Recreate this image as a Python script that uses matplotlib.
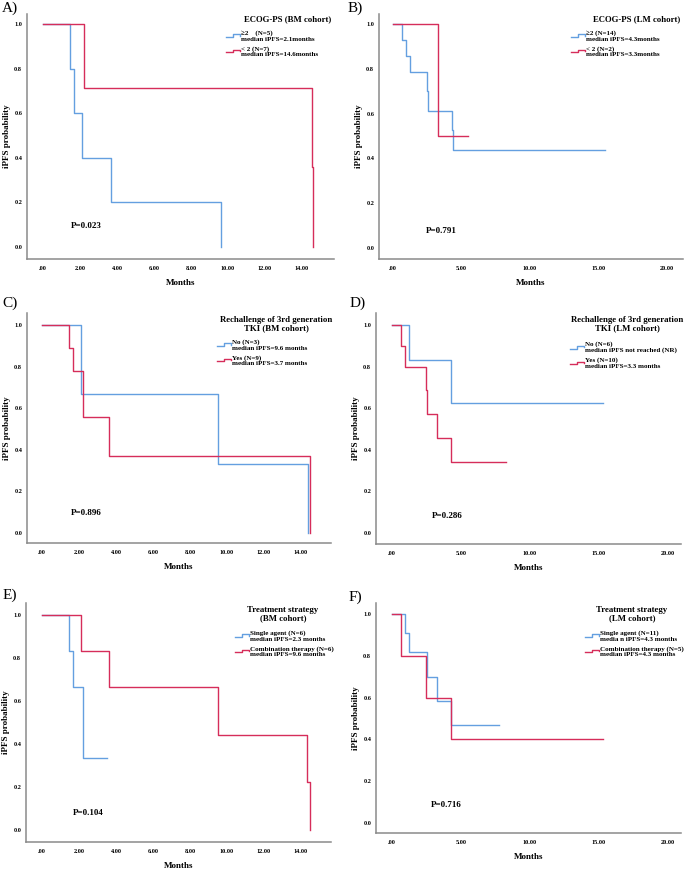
import numpy as np
import matplotlib
matplotlib.use('Agg')
import matplotlib.pyplot as plt
from matplotlib.lines import Line2D
from matplotlib.legend_handler import HandlerBase

plt.rcParams['font.family'] = ['Liberation Serif', 'DejaVu Serif']

W, H = 685, 869
blue = '#649fe0'
red = '#d62d5a'

# ---- data (months, iPFS probability) ----
A_blue_t = [0, 1.45, 1.65, 2.12, 3.68, 9.6]
A_blue_s = [1.0, 0.8, 0.6, 0.4, 0.2, 0.0]
A_red_t = [0, 2.23, 14.52, 14.58]
A_red_s = [1.0, 0.714, 0.357, 0.0]

B_blue_t = [0, 0.66, 0.98, 1.27, 2.49, 2.56, 4.34, 4.41, 15.5]
B_blue_s = [1.0, 0.929, 0.857, 0.786, 0.70, 0.613, 0.525, 0.4375, 0.4375]
B_red_t = [0, 3.32, 5.5]
B_red_s = [1.0, 0.5, 0.5]

C_blue_t = [0, 2.09, 9.53, 14.38]
C_blue_s = [1.0, 0.667, 0.333, 0.0]
C_red_t = [0, 1.44, 1.65, 2.21, 3.62, 14.47]
C_red_s = [1.0, 0.889, 0.778, 0.556, 0.370, 0.0]

D_blue_t = [0, 1.25, 4.29, 15.3]
D_blue_s = [1.0, 0.833, 0.625, 0.625]
D_red_t = [0, 0.65, 0.92, 2.46, 2.55, 3.28, 4.27, 8.27]
D_red_s = [1.0, 0.9, 0.8, 0.686, 0.571, 0.457, 0.343, 0.343]

E_blue_t = [0, 1.44, 1.65, 2.21, 3.51]
E_blue_s = [1.0, 0.833, 0.667, 0.333, 0.333]
E_red_t = [0, 2.09, 3.62, 9.53, 14.35, 14.46]
E_red_s = [1.0, 0.833, 0.667, 0.444, 0.222, 0.0]

F_blue_t = [0, 0.92, 1.25, 2.53, 3.28, 4.29, 7.76]
F_blue_s = [1.0, 0.909, 0.818, 0.70, 0.584, 0.467, 0.467]
F_red_t = [0, 0.65, 2.46, 4.27, 15.3]
F_red_s = [1.0, 0.8, 0.6, 0.4, 0.4]

titles = ['ECOG-PS (BM cohort)', 'ECOG-PS (LM cohort)',
          'Rechallenge of 3rd generation\nTKI (BM cohort)',
          'Rechallenge of 3rd generation\nTKI (LM cohort)',
          'Treatment strategy\n(BM cohort)', 'Treatment strategy\n(LM cohort)']
blue_labels = ['≥2    (N=5)\nmedian iPFS=2.1months', '≥2 (N=14)\nmedian iPFS=4.3months',
               'No (N=3)\nmedian iPFS=9.6 months', 'No (N=6)\nmedian iPFS not reached (NR)',
               'Single agent (N=6)\nmedian iPFS=2.3 months', 'Single agent (N=11)\nmedia n iPFS=4.3 months']
red_labels = ['< 2 (N=7)\nmedian iPFS=14.6months', '< 2 (N=2)\nmedian iPFS=3.3months',
              'Yes (N=9)\nmedian iPFS=3.7 months', 'Yes (N=10)\nmedian iPFS=3.3 months',
              'Combination therapy (N=6)\nmedian iPFS=9.6 months', 'Combination therapy (N=5)\nmedian iPFS=4.3 months']
pvals = ['P=0.023', 'P=0.791', 'P=0.896', 'P=0.286', 'P=0.104', 'P=0.716']
panel_ids = ['A)', 'B)', 'C)', 'D)', 'E)', 'F)']

curves = [(A_blue_t, A_blue_s, A_red_t, A_red_s), (B_blue_t, B_blue_s, B_red_t, B_red_s),
          (C_blue_t, C_blue_s, C_red_t, C_red_s), (D_blue_t, D_blue_s, D_red_t, D_red_s),
          (E_blue_t, E_blue_s, E_red_t, E_red_s), (F_blue_t, F_blue_s, F_red_t, F_red_s)]

# layout in pixels: left, right, top, bottom, x of month 0, px per month, y of 1.0, y of 0.0
layout = [(27, 334, 14, 259, 43, 18.5, 24, 247),
          (379, 683, 14, 259, 393, 13.7, 24, 248),
          (27, 331, 313, 543, 42, 18.5, 325, 533),
          (376, 681, 313, 544, 392, 13.8, 325, 533),
          (26, 331, 603, 842, 42, 18.5, 615, 830),
          (376, 681, 603, 833, 392, 13.8, 614, 823)]
# p-value position (data coords), panel letter position, legend title centre, legend anchor (px)
p_pos = [(1.5, 0.094), (2.4, 0.076), (1.57, 0.096), (2.9, 0.082), (1.67, 0.079), (2.83, 0.086)]
id_pos = [(10, 8), (355, 8), (10, 303), (358, 303), (10, 595), (355, 597)]
title_pos = [(288, 19), (637, 19), (276, 324), (627, 324), (283, 614), (632, 614)]
leg_pos = [(223, 27), (568, 27), (214, 336), (567, 338), (232, 627), (582, 627)]


class StepHandler(HandlerBase):
    def create_artists(self, legend, orig_handle, xdescent, ydescent, width, height, fontsize, trans):
        xs = np.array([0, 0.5, 0.5, 1.0, 1.0]) * width - xdescent
        ys = np.array([0.2, 0.2, 0.75, 0.75, 0.45]) * height - ydescent
        ln = Line2D(xs, ys, color=orig_handle.get_color(), lw=orig_handle.get_linewidth())
        ln.set_transform(trans)
        return [ln]


fig = plt.figure(figsize=(W / 100, H / 100), dpi=100)

for i in range(6):
    l, r, t, b, x0, ppm, y1, y0 = layout[i]
    ax = fig.add_axes([l / W, 1 - b / H, (r - l) / W, (b - t) / H])
    ax.set_xlim((l - x0) / ppm, (r - x0) / ppm)
    ax.set_ylim((y0 - b) / (y0 - y1), (y0 - t) / (y0 - y1))

    bt, bs, rt, rs = curves[i]
    hb, = ax.step(bt, bs, where='post', color=blue, lw=1.0)
    hr, = ax.step(rt, rs, where='post', color=red, lw=1.0)

    xmax = 14 if i % 2 == 0 else 20
    xstep = 2 if i % 2 == 0 else 5
    xt = np.arange(0, xmax + 0.1, xstep)
    ax.set_xticks(xt)
    ax.set_xticklabels(['.00' if v == 0 else '%.2f' % v for v in xt])
    yt = np.arange(0, 1.01, 0.2)
    ax.set_yticks(yt)
    ax.set_yticklabels(['%.1f' % v for v in yt])
    ax.tick_params(length=0, labelsize=4.5, pad=3.5)
    ax.tick_params(axis='x', pad=5)
    for lab in ax.get_xticklabels() + ax.get_yticklabels():
        lab.set_fontweight('bold')

    for s in ['top', 'right']:
        ax.spines[s].set_visible(False)
    for s in ['left', 'bottom']:
        ax.spines[s].set_color('#8a8a8a')
        ax.spines[s].set_linewidth(1.1)

    ax.set_xlabel('Months', fontsize=6.5, fontweight='bold', labelpad=6)
    ax.set_ylabel('iPFS probability', fontsize=6.5, fontweight='bold', labelpad=2.5)

    ax.text(p_pos[i][0], p_pos[i][1], pvals[i], fontsize=6.5, fontweight='bold', va='center', ha='left')

    fig.text(id_pos[i][0] / W, 1 - id_pos[i][1] / H, panel_ids[i], fontsize=11, ha='center', va='center')
    fig.text(title_pos[i][0] / W, 1 - title_pos[i][1] / H, titles[i], fontsize=6.3,
             fontweight='bold', ha='center', va='center', linespacing=1.0)

    leg = ax.legend([hb, hr], [blue_labels[i], red_labels[i]],
                    handler_map={Line2D: StepHandler()},
                    loc='upper left', bbox_to_anchor=(leg_pos[i][0] / W, 1 - leg_pos[i][1] / H),
                    bbox_transform=fig.transFigure, frameon=False, borderpad=0,
                    handlelength=2.0, handletextpad=0.15, labelspacing=0.6,
                    prop={'size': 5.0, 'weight': 'bold'})
    for txt in leg.get_texts():
        txt.set_linespacing(1.1)

fig.savefig('out.png', dpi=100)
